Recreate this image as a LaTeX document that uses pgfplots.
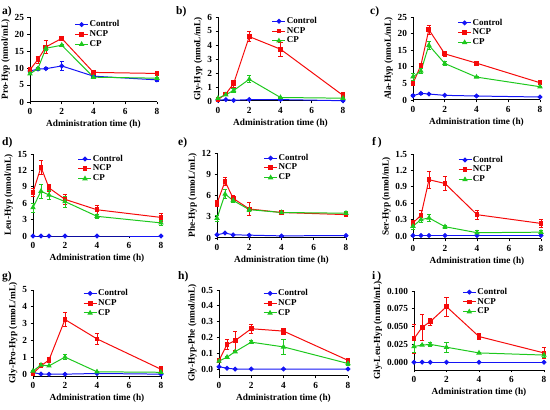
\documentclass[border=0pt]{standalone}
\usepackage{fontspec}
\setmainfont{Liberation Serif}
\usepackage{pgfplots}
\pgfplotsset{compat=1.18}
\definecolor{cblue}{RGB}{20,20,245}
\definecolor{cred}{RGB}{245,10,10}
\definecolor{cgreen}{RGB}{30,200,30}
\newcommand\fs{\fontsize{9.3bp}{9.3bp}\selectfont\bfseries}
\newcommand\fl{\fontsize{9bp}{9bp}\selectfont\bfseries}
\pgfplotsset{
  panel/.style={
    scale only axis, anchor=north west,
    axis x line*=bottom, axis y line*=left,
    axis line style={line width=1pt,-},
    tick style={line width=0.9pt,black},
    tick align=outside, major tick length=2.5bp,
    xmin=0, xmax=8, xtick={0,2,4,6,8},
    /pgf/number format/assume math mode=true,
    tick label style={font=\fs},
    label style={font=\fs},
    xlabel={Administration time (h)},
    xlabel style={yshift=1bp},
    ylabel style={yshift=-2bp},
    clip=false,
    legend cell align=left,
    legend style={draw=none, fill=none, inner sep=0pt, font=\fl,
      nodes={inner sep=1pt, text height=6bp, text depth=1.8bp}, row sep=0pt},
    legend image code/.code={\draw[##1, mark repeat=2, mark phase=2] plot coordinates {(0bp,0bp)(6.5bp,0bp)(13bp,0bp)};},
    every axis plot/.append style={line width=1pt},
  },
  eb/.style={error bars/y dir=both, error bars/y explicit,
    error bars/error bar style={line width=0.7pt},
    error bars/error mark options={rotate=90, mark size=2.2bp, line width=0.7pt}},
  ctrl/.style={color=cblue, mark=*, mark size=1.9bp, mark options={solid}, eb},
  ncp/.style={color=cred, mark=square*, mark size=1.9bp, mark options={solid}, eb},
  cp/.style={color=cgreen, mark=triangle*, mark size=2.2bp, mark options={solid}, eb},
}
\begin{document}
\begin{tikzpicture}
\useasboundingbox (0,0) rectangle (550bp,410bp);
% ---------- a ----------
\begin{axis}[panel, at={(30bp,393bp)}, width=127bp, height=85bp,
  ymin=0, ymax=25, ytick={0,5,10,15,20,25}, ylabel={Pro-Hyp (nmol/mL)},
  legend style={at={(0.35,0.97)}, anchor=north west}]
\addplot[ctrl] coordinates {(0,9.1)+-(0,0.4) (0.5,9.7)+-(0,0.3) (1,9.8)+-(0,0.3) (2,10.6)+-(0,1.3) (4,7.6)+-(0,0.3) (8,6.5)+-(0,0.3)};
\addplot[ncp] coordinates {(0,9.5)+-(0,0.3) (0.5,12.5)+-(0,1.0) (1,16.2)+-(0,2.0) (2,18.7)+-(0,0.6) (4,8.7)+-(0,0.3) (8,8.4)+-(0,0.3)};
\addplot[cp] coordinates {(0,8.3)+-(0,0.3) (0.5,9.8)+-(0,0.4) (1,15.8)+-(0,0.5) (2,16.7)+-(0,0.4) (4,7.3)+-(0,0.3) (8,7.0)+-(0,0.3)};
\legend{Control,NCP,CP}
\end{axis}
% ---------- b ----------
\begin{axis}[panel, at={(218bp,393bp)}, width=125bp, height=84bp,
  ymin=0, ymax=6, ytick={0,1,2,3,4,5,6}, ylabel={Gly-Hyp (nmoL/mL)},
  legend style={at={(0.43,1.01)}, anchor=north west}]
\addplot[ctrl] coordinates {(0,0.05)+-(0,0.02) (0.5,0.1)+-(0,0.03) (1,0.05)+-(0,0.02) (2,0.1)+-(0,0.05) (4,0.1)+-(0,0.03) (8,0.02)+-(0,0.01)};
\addplot[ncp] coordinates {(0,0.1)+-(0,0.03) (0.5,0.5)+-(0,0.05) (1,1.25)+-(0,0.25) (2,4.6)+-(0,0.35) (4,3.7)+-(0,0.5) (8,0.4)+-(0,0.25)};
\addplot[cp] coordinates {(0,0.2)+-(0,0.03) (0.5,0.45)+-(0,0.05) (1,0.75)+-(0,0.15) (2,1.55)+-(0,0.25) (4,0.25)+-(0,0.03) (8,0.2)+-(0,0.03)};
\legend{Control,NCP,CP}
\end{axis}
% ---------- c ----------
\begin{axis}[panel, at={(413bp,393bp)}, width=127bp, height=83bp,
  ymin=0, ymax=25, ytick={0,5,10,15,20,25}, ylabel={Ala-Hyp (nmoL/mL)},
  legend style={at={(0.35,0.99)}, anchor=north west}]
\addplot[ctrl] coordinates {(0,1.3)+-(0,0.3) (0.5,2.0)+-(0,0.2) (1,1.8)+-(0,0.2) (2,1.4)+-(0,0.1) (4,1.2)+-(0,0.1) (8,0.9)+-(0,0.1)};
\addplot[ncp] coordinates {(0,5.0)+-(0,0.5) (0.5,10.5)+-(0,0.5) (1,21.2)+-(0,1.4) (2,13.9)+-(0,0.8) (4,11.1)+-(0,0.3) (8,5.2)+-(0,0.3)};
\addplot[cp] coordinates {(0,7.0)+-(0,1.0) (0.5,8.7)+-(0,0.8) (1,16.5)+-(0,1.2) (2,11.0)+-(0,0.6) (4,6.9)+-(0,0.2) (8,4.0)+-(0,0.2)};
\legend{Control,NCP,CP}
\end{axis}
% ---------- d ----------
\begin{axis}[panel, at={(33bp,256bp)}, width=128bp, height=82bp,
  ymin=0, ymax=15, ytick={0,3,6,9,12,15}, ylabel={Leu-Hyp (nmol/mL)},
  legend style={at={(0.35,1.0)}, anchor=north west}]
\addplot[ctrl] coordinates {(0,0)+-(0,0) (0.5,0)+-(0,0) (1,0)+-(0,0) (2,0)+-(0,0) (4,0)+-(0,0) (8,0)+-(0,0)};
\addplot[ncp] coordinates {(0,8.0)+-(0,0.7) (0.5,12.6)+-(0,1.3) (1,8.8)+-(0,0.7) (2,6.7)+-(0,1.0) (4,4.8)+-(0,0.8) (8,3.4)+-(0,0.8)};
\addplot[cp] coordinates {(0,5.2)+-(0,0.8) (0.5,8.2)+-(0,1.3) (1,7.5)+-(0,0.8) (2,6.3)+-(0,1.0) (4,3.6)+-(0,0.4) (8,2.4)+-(0,0.5)};
\legend{Control,NCP,CP}
\end{axis}
% ---------- e ----------
\begin{axis}[panel, at={(217bp,257bp)}, width=129bp, height=85bp,
  ymin=0, ymax=12, ytick={0,3,6,9,12}, ylabel={Phe-Hyp (nmoL/mL)},
  legend style={at={(0.36,1.0)}, anchor=north west}]
\addplot[ctrl] coordinates {(0,0.45)+-(0,0.05) (0.5,0.7)+-(0,0.1) (1,0.45)+-(0,0.05) (2,0.4)+-(0,0.05) (4,0.3)+-(0,0.05) (8,0.35)+-(0,0.05)};
\addplot[ncp] coordinates {(0,4.9)+-(0,0.4) (0.5,8.0)+-(0,0.5) (1,5.6)+-(0,0.4) (2,4.1)+-(0,0.9) (4,3.6)+-(0,0.1) (8,3.3)+-(0,0.3)};
\addplot[cp] coordinates {(0,2.8)+-(0,0.4) (0.5,6.2)+-(0,0.6) (1,5.3)+-(0,0.3) (2,4.0)+-(0,0.2) (4,3.6)+-(0,0.1) (8,3.5)+-(0,0.2)};
\legend{Control,NCP,CP}
\end{axis}
% ---------- f ----------
\begin{axis}[panel, at={(413bp,256bp)}, width=128bp, height=85bp,
  ymin=-0.055, ymax=1.5, ytick={0,0.3,0.6,0.9,1.2,1.5},
  yticklabels={0.0,0.3,0.6,0.9,1.2,1.5}, ylabel={Ser-Hyp (nmol/mL)},
  legend style={at={(0.35,0.99)}, anchor=north west}]
\addplot[ctrl] coordinates {(0,0.01)+-(0,0) (0.5,0.01)+-(0,0) (1,0.01)+-(0,0) (2,0.01)+-(0,0) (4,0.01)+-(0,0) (8,0.01)+-(0,0)};
\addplot[ncp] coordinates {(0,0.24)+-(0,0.05) (0.5,0.38)+-(0,0.08) (1,1.03)+-(0,0.16) (2,0.96)+-(0,0.13) (4,0.39)+-(0,0.08) (8,0.23)+-(0,0.08)};
\addplot[cp] coordinates {(0,0.18)+-(0,0.06) (0.5,0.30)+-(0,0.05) (1,0.33)+-(0,0.07) (2,0.17)+-(0,0.03) (4,0.06)+-(0,0.04) (8,0.07)+-(0,0.04)};
\legend{Control,NCP,CP}
\end{axis}
% ---------- g ----------
\begin{axis}[panel, at={(33bp,120bp)}, width=128bp, height=86bp,
  ymin=-0.1, ymax=5, ytick={0,1,2,3,4,5}, ylabel={Gly-Pro-Hyp (nmoL/mL)},
  legend style={at={(0.39,1.02)}, anchor=north west}]
\addplot[ctrl] coordinates {(0,0.1)+-(0,0.03) (0.5,0.02)+-(0,0.01) (1,0.01)+-(0,0.01) (2,0.01)+-(0,0.01) (4,0.05)+-(0,0.02) (8,0.01)+-(0,0.01)};
\addplot[ncp] coordinates {(0,0.05)+-(0,0.02) (0.5,0.5)+-(0,0.05) (1,0.85)+-(0,0.15) (2,3.25)+-(0,0.4) (4,2.1)+-(0,0.3) (8,0.3)+-(0,0.15)};
\addplot[cp] coordinates {(0,0.2)+-(0,0.03) (0.5,0.55)+-(0,0.05) (1,0.5)+-(0,0.05) (2,1.02)+-(0,0.15) (4,0.15)+-(0,0.03) (8,0.12)+-(0,0.03)};
\legend{Control,NCP,CP}
\end{axis}
% ---------- h ----------
\begin{axis}[panel, at={(219bp,120bp)}, width=129bp, height=86bp,
  ymin=-0.044, ymax=0.5, ytick={0,0.1,0.2,0.3,0.4,0.5},
  yticklabels={0.0,0.1,0.2,0.3,0.4,0.5}, ylabel={Gly-Hyp-Phe (nmol/mL)},
  legend style={at={(0.34,1.02)}, anchor=north west}]
\addplot[ctrl] coordinates {(0,0.015)+-(0,0.003) (0.5,0.005)+-(0,0.002) (1,0)+-(0,0) (2,0)+-(0,0) (4,0)+-(0,0) (8,0)+-(0,0)};
\addplot[ncp] coordinates {(0,0.055)+-(0,0.01) (0.5,0.155)+-(0,0.03) (1,0.18)+-(0,0.06) (2,0.255)+-(0,0.03) (4,0.24)+-(0,0.02) (8,0.055)+-(0,0.01)};
\addplot[cp] coordinates {(0,0.05)+-(0,0.005) (0.5,0.075)+-(0,0.005) (1,0.11)+-(0,0.005) (2,0.17)+-(0,0.01) (4,0.14)+-(0,0.05) (8,0.035)+-(0,0.01)};
\legend{Control,NCP,CP}
\end{axis}
% ---------- i ----------
\begin{axis}[panel, at={(414bp,119bp)}, width=130bp, height=79bp,
  ymin=-0.011, ymax=0.1, ytick={0,0.025,0.05,0.075,0.1},
  yticklabels={0.000,0.025,0.050,0.075,0.100}, ylabel={Gly-Leu-Hyp (nmol/mL)},
  legend style={at={(0.37,1.05)}, anchor=north west}]
\addplot[ctrl] coordinates {(0,0)+-(0,0) (0.5,0)+-(0,0) (1,0)+-(0,0) (2,0)+-(0,0) (4,0)+-(0,0) (8,0)+-(0,0)};
\addplot[ncp] coordinates {(0,0.033)+-(0,0.02) (0.5,0.049)+-(0,0.018) (1,0.057)+-(0,0.005) (2,0.078)+-(0,0.013) (4,0.036)+-(0,0.004) (8,0.013)+-(0,0.008)};
\addplot[cp] coordinates {(0,0.022)+-(0,0.008) (0.5,0.024)+-(0,0.001) (1,0.025)+-(0,0.003) (2,0.021)+-(0,0.007) (4,0.013)+-(0,0.001) (8,0.010)+-(0,0.003)};
\legend{Control,NCP,CP}
\end{axis}
% ---------- panel letters ----------
\begin{scope}[every node/.style={font=\fontsize{11.5bp}{12bp}\selectfont\bfseries, anchor=west, inner sep=0pt}]
\node at (2bp,398bp) {a)};
\node at (176bp,398bp) {b)};
\node at (370bp,398bp) {c)};
\node at (2bp,267bp) {d)};
\node at (178bp,267bp) {e)};
\node at (372bp,267bp) {f\,)};
\node at (2bp,133bp) {g)};
\node at (178bp,133bp) {h)};
\node at (372bp,133bp) {i\,)};
\end{scope}
\end{tikzpicture}
\end{document}
